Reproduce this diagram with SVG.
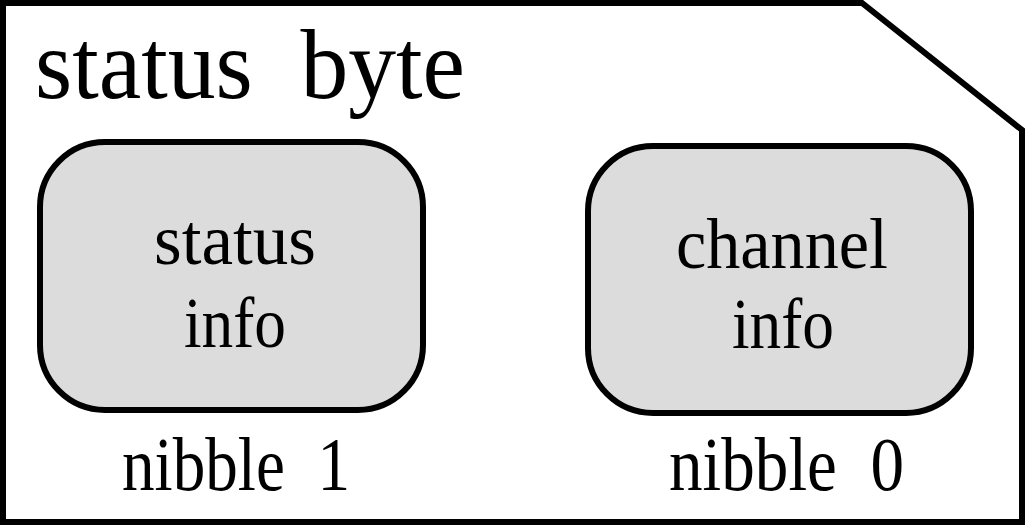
<svg xmlns="http://www.w3.org/2000/svg" width="1025" height="526" viewBox="0 0 1025 526">
<style>
  .frame { fill: #ffffff; stroke: #000000; stroke-width: 6; stroke-linejoin: miter; }
  .node { fill: #dcdcdc; stroke: #000000; stroke-width: 6; }
  text { font-family: "Liberation Serif", "Times New Roman", serif; fill: #000000; }
  .title { font-size: 100px; }
  .label { font-size: 72px; }
  .nib { font-size: 76px; }
</style>
<g id="status-byte">
  <path class="frame" d="M3,3 H862 L1022,130 V522 H3 Z"/>
  <text class="title" x="35" y="98" textLength="430" lengthAdjust="spacingAndGlyphs">status&#160; byte</text>
</g>
<g id="status-info">
  <rect class="node" x="40" y="142" width="383" height="268" rx="65" ry="65"/>
  <text class="label" x="154" y="264" textLength="162" lengthAdjust="spacingAndGlyphs">status</text>
  <text class="label" x="184" y="347" textLength="102" lengthAdjust="spacingAndGlyphs">info</text>
</g>
<g id="channel-info">
  <rect class="node" x="588" y="146" width="383" height="267" rx="65" ry="65"/>
  <text class="label" x="676" y="268" textLength="212" lengthAdjust="spacingAndGlyphs">channel</text>
  <text class="label" x="732" y="348" textLength="102" lengthAdjust="spacingAndGlyphs">info</text>
</g>
<g id="nibble-1">
  <text class="nib" x="122" y="490" textLength="228" lengthAdjust="spacingAndGlyphs">nibble&#160; 1</text>
</g>
<g id="nibble-0">
  <text class="nib" x="669" y="490" textLength="235" lengthAdjust="spacingAndGlyphs">nibble&#160; 0</text>
</g>
<g id="connectors"></g>
</svg>
